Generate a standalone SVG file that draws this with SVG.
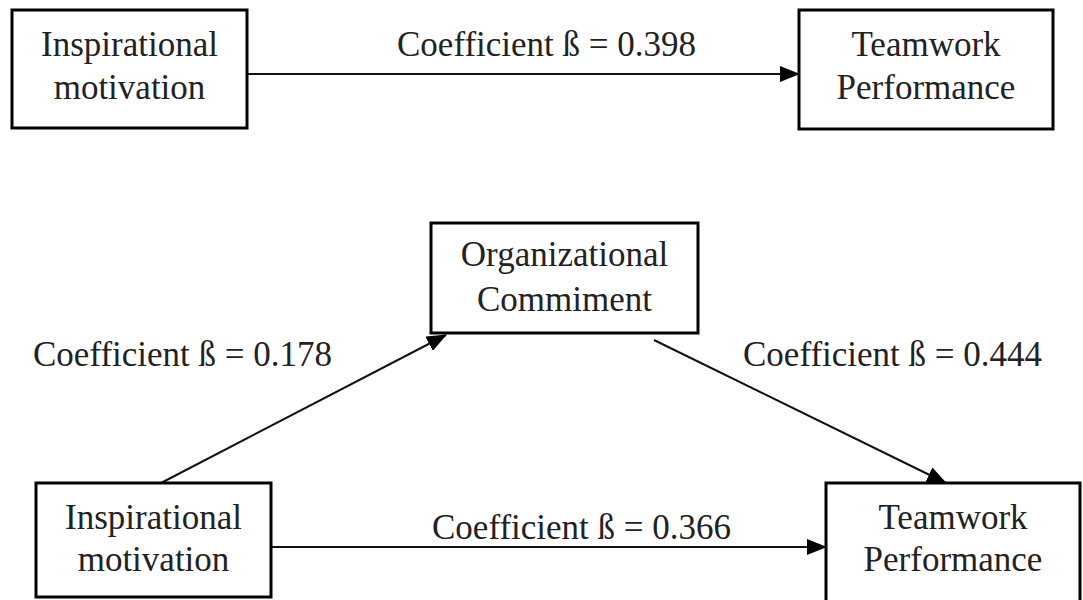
<svg xmlns="http://www.w3.org/2000/svg" width="1083" height="600" viewBox="0 0 1083 600">
<style>
.box{fill:#fff;stroke:#000;stroke-width:3}
.t{font-family:"Liberation Serif","Times New Roman",serif;font-size:35px;fill:#222;text-anchor:middle}
.lbl{font-family:"Liberation Serif","Times New Roman",serif;font-size:35px;fill:#222}
.ln{stroke:#111;stroke-width:2;fill:none}
</style>
<defs>
<marker id="ah" markerUnits="userSpaceOnUse" markerWidth="20" markerHeight="16" viewBox="0 0 20 16" refX="19" refY="8" orient="auto">
<path d="M0,0 L20,8 L0,16 Z" fill="#000"/>
</marker>
</defs>
<rect width="1083" height="600" fill="#fff"/>
<g id="connectors">
<line class="ln" x1="247" y1="74" x2="799" y2="74" marker-end="url(#ah)"/>
<line class="ln" x1="161" y1="483" x2="446" y2="335" marker-end="url(#ah)"/>
<line class="ln" x1="654" y1="340" x2="946" y2="483" marker-end="url(#ah)"/>
<line class="ln" x1="271" y1="547" x2="826" y2="547" marker-end="url(#ah)"/>
</g>
<g id="n1">
<rect class="box" x="12" y="10" width="235" height="118"/>
<text class="t" x="129.5" y="56">Inspirational</text>
<text class="t" x="129.5" y="99">motivation</text>
</g>
<g id="n2">
<rect class="box" x="799" y="10" width="254" height="119"/>
<text class="t" x="926" y="56">Teamwork</text>
<text class="t" x="926" y="99">Performance</text>
</g>
<g id="n3">
<rect class="box" x="431" y="223" width="267" height="110"/>
<text class="t" x="564.5" y="266">Organizational</text>
<text class="t" x="564.5" y="311">Commiment</text>
</g>
<g id="n4">
<rect class="box" x="36" y="483" width="235" height="114"/>
<text class="t" x="153.5" y="529">Inspirational</text>
<text class="t" x="153.5" y="571">motivation</text>
</g>
<g id="n5">
<rect class="box" x="826" y="483" width="254" height="122"/>
<text class="t" x="953" y="529">Teamwork</text>
<text class="t" x="953" y="571">Performance</text>
</g>
<g id="labels">
<text class="lbl" x="397" y="56">Coefficient ß = 0.398</text>
<text class="lbl" x="33" y="366">Coefficient ß = 0.178</text>
<text class="lbl" x="743" y="366">Coefficient ß = 0.444</text>
<text class="lbl" x="432" y="539">Coefficient ß = 0.366</text>
</g>
</svg>
